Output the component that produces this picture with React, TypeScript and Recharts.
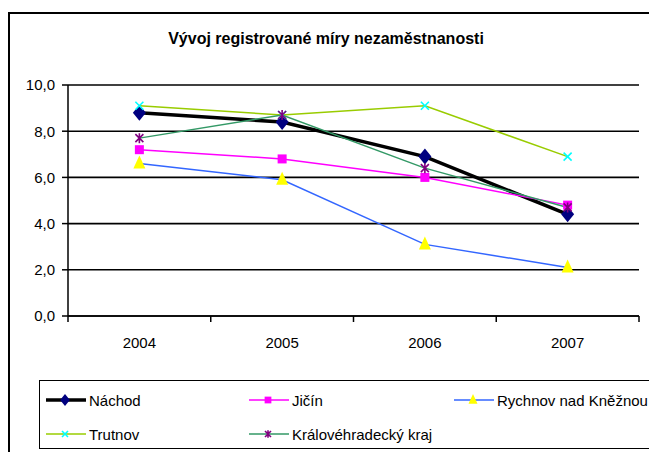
import { CartesianGrid, Line, LineChart, XAxis, YAxis } from "recharts";

// Vývoj registrované míry nezaměstnanosti (v %), okresy Královéhradeckého kraje

const YEARS = ["2004", "2005", "2006", "2007"];
const NACHOD = [8.8, 8.4, 6.9, 4.4];
const JICIN = [7.2, 6.8, 6.0, 4.8];
const RYCHNOV = [6.6, 5.9, 3.1, 2.1];
const TRUTNOV = [9.1, 8.7, 9.1, 6.9];
const KRAJ = [7.7, 8.7, 6.4, 4.7];
const Y_TICKS = [0, 2, 4, 6, 8, 10];
// středy kategorií + hranice mezi nimi (Excel má čárky mezi roky)
const X_TICKS = [-0.5, 0, 0.5, 1, 1.5, 2, 2.5, 3, 3.5];

const FONT = "'Liberation Sans', Arial, sans-serif";

type Marker = "diamond" | "square" | "triangle" | "cross" | "star";

const SERIES = [
  { key: "nachod", label: "Náchod", values: NACHOD, color: "#000000", width: 3.5, marker: "diamond", fill: "#000080" },
  { key: "jicin", label: "Jičín", values: JICIN, color: "#ff00ff", width: 1.5, marker: "square", fill: "#ff00ff" },
  { key: "rychnov", label: "Rychnov nad Kněžnou", values: RYCHNOV, color: "#3366ff", width: 1.5, marker: "triangle", fill: "#ffff00" },
  { key: "trutnov", label: "Trutnov", values: TRUTNOV, color: "#99cc00", width: 1.5, marker: "cross", fill: "#00ffff" },
  { key: "kraj", label: "Královéhradecký kraj", values: KRAJ, color: "#339966", width: 1.5, marker: "star", fill: "#800080" },
] as const;

const data = YEARS.map((year, i) => {
  const row: Record<string, number | string> = { x: i, year };
  SERIES.forEach((s) => (row[s.key] = s.values[i]));
  return row;
});

function MarkerShape({ kind, cx, cy, fill, s = 1 }: { kind: Marker; cx: number; cy: number; fill: string; s?: number }) {
  switch (kind) {
    case "diamond":
      return <path d={`M${cx},${cy - 8 * s}L${cx + 6.5 * s},${cy}L${cx},${cy + 8 * s}L${cx - 6.5 * s},${cy}Z`} fill={fill} />;
    case "square":
      return <rect x={cx - 4.5 * s} y={cy - 4.5 * s} width={9 * s} height={9 * s} fill={fill} />;
    case "triangle":
      return <path d={`M${cx},${cy - 8 * s}L${cx + 6 * s},${cy + 5 * s}L${cx - 6 * s},${cy + 5 * s}Z`} fill={fill} />;
    case "cross":
      return (
        <path
          d={`M${cx - 4 * s},${cy - 4 * s}L${cx + 4 * s},${cy + 4 * s}M${cx + 4 * s},${cy - 4 * s}L${cx - 4 * s},${cy + 4 * s}`}
          stroke={fill}
          strokeWidth={1.6}
        />
      );
    default:
      return (
        <path
          d={`M${cx - 4 * s},${cy - 4 * s}L${cx + 4 * s},${cy + 4 * s}M${cx + 4 * s},${cy - 4 * s}L${cx - 4 * s},${cy + 4 * s}M${cx},${cy - 5 * s}L${cx},${cy + 5 * s}`}
          stroke={fill}
          strokeWidth={1.6}
        />
      );
  }
}

function YearTick(props: any) {
  const { x, y, payload } = props;
  const v = payload.value as number;
  if (Number.isInteger(v)) {
    return (
      <text x={x} y={y + 32} textAnchor="middle" fontSize={15} fontFamily={FONT} fill="#000">
        {YEARS[v]}
      </text>
    );
  }
  return <line x1={x} x2={x} y1={y} y2={y + 6} stroke="#000" strokeWidth={1.5} />;
}

function LegendBox() {
  const colX = [6, 209, 414];
  const rowY = [19, 53];
  return (
    <div
      style={{
        position: "absolute",
        left: 39,
        top: 380,
        width: 660,
        height: 67,
        border: "1.5px solid #000",
        fontFamily: FONT,
        fontSize: 15,
      }}
    >
      {SERIES.map((s, i) => (
        <div
          key={s.key}
          style={{
            position: "absolute",
            left: colX[i % 3],
            top: rowY[Math.floor(i / 3)] - 9,
            height: 18,
            display: "flex",
            alignItems: "center",
            whiteSpace: "nowrap",
          }}
        >
          <svg width={40} height={18} style={{ marginRight: 3 }}>
            <line x1={0} x2={40} y1={9} y2={9} stroke={s.color} strokeWidth={s.width} />
            <MarkerShape kind={s.marker} cx={19} cy={9} fill={s.fill} s={0.75} />
          </svg>
          <span>{s.label}</span>
        </div>
      ))}
    </div>
  );
}

export default function App() {
  return (
    <div style={{ position: "absolute", left: 0, top: 0, width: 649, height: 452, overflow: "hidden", background: "#fff" }}>
      <div
        style={{
          position: "absolute",
          left: 8,
          top: 12,
          width: 680,
          height: 480,
          border: "2px solid #000",
        }}
      />
      <div
        style={{
          position: "absolute",
          left: 0,
          width: 652,
          top: 31,
          lineHeight: "16px",
          textAlign: "center",
          fontFamily: FONT,
          fontWeight: "bold",
          fontSize: 16,
        }}
      >
        Vývoj registrované míry nezaměstnanosti
      </div>
      <div style={{ position: "absolute", left: 0, top: 0 }}>
        <LineChart width={649} height={452} data={data} margin={{ top: 85, right: 10, left: 0, bottom: 0 }}>
          <CartesianGrid vertical={false} stroke="#000" strokeWidth={1.6} />
          <XAxis
            dataKey="x"
            type="number"
            domain={[-0.5, 3.5]}
            ticks={X_TICKS}
            interval={0}
            height={136}
            tickSize={0}
            tickMargin={0}
            tickLine={false}
            tick={<YearTick />}
            stroke="#000"
            strokeWidth={1.5}
          />
          <YAxis
            domain={[0, 10]}
            ticks={Y_TICKS}
            width={68}
            tickSize={6}
            tickMargin={7}
            tickFormatter={(v: number) => v.toFixed(1).replace(".", ",")}
            tick={{ fontSize: 15, fontFamily: FONT, fill: "#000" }}
            stroke="#000"
            strokeWidth={1.5}
          />
          <YAxis
            yAxisId="r"
            orientation="right"
            width={0}
            domain={[0, 10]}
            tick={false}
            tickLine={false}
            axisLine={{ stroke: "#444", strokeWidth: 1.5 }}
          />
          {SERIES.map((s) => (
            <Line
              key={s.key}
              dataKey={s.key}
              stroke={s.color}
              strokeWidth={s.width}
              isAnimationActive={false}
              dot={(p: any) => (
                <MarkerShape key={`${s.key}-${p.index}`} kind={s.marker} cx={p.cx} cy={p.cy} fill={s.fill} />
              )}
              activeDot={false}
            />
          ))}
        </LineChart>
      </div>
      <LegendBox />
    </div>
  );
}
